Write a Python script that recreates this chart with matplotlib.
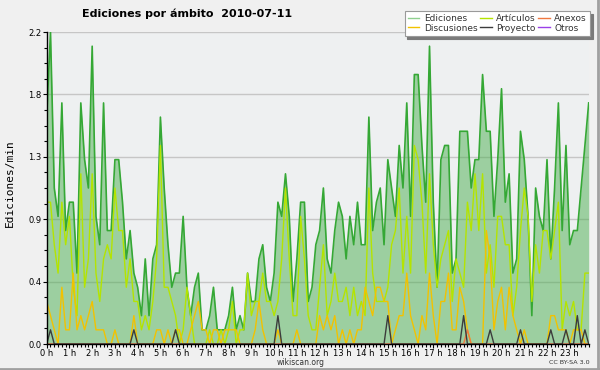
import numpy as np
import matplotlib
matplotlib.use('Agg')
import matplotlib.pyplot as plt
from matplotlib.ticker import FixedLocator, MultipleLocator
from matplotlib.lines import Line2D

# Edits per minute, one value per 10-minute slot (144 slots over the day)
ediciones = [1.6, 2.2, 1.1, 0.9, 1.7, 0.8, 1.0, 1.0, 0.5, 1.7, 1.3, 1.1, 2.1, 0.9, 0.7, 1.7,
             0.8, 0.8, 1.3, 1.3, 1.0, 0.6, 0.8, 0.5, 0.4, 0.2, 0.6, 0.2, 0.6, 0.7, 1.6, 1.1,
             0.7, 0.4, 0.5, 0.5, 0.9, 0.4, 0.2, 0.4, 0.5, 0.1, 0.1, 0.2, 0.4, 0.1, 0.1, 0.1,
             0.2, 0.4, 0.1, 0.2, 0.1, 0.5, 0.3, 0.3, 0.6, 0.7, 0.4, 0.3, 0.5, 1.0, 0.9, 1.2,
             0.9, 0.3, 0.6, 1.0, 1.0, 0.3, 0.4, 0.7, 0.8, 1.1, 0.6, 0.5, 0.8, 1.0, 0.9, 0.6,
             0.9, 0.7, 1.0, 0.7, 0.7, 1.6, 0.8, 1.0, 1.1, 0.7, 1.3, 1.1, 0.9, 1.4, 1.1, 1.7,
             0.9, 1.9, 1.9, 1.4, 1.0, 2.1, 1.0, 0.4, 1.3, 1.4, 1.4, 0.5, 0.6, 1.5, 1.5, 1.5,
             1.1, 1.3, 1.3, 1.9, 1.5, 1.5, 0.9, 1.3, 1.8, 1.0, 1.2, 0.5, 0.6, 1.5, 1.3, 0.9,
             0.2, 1.1, 0.9, 0.8, 1.3, 0.6, 1.1, 1.7, 0.8, 1.4, 0.7, 0.8, 0.8, 1.1, 1.4, 1.7]

articulos = [1.0, 1.0, 0.7, 0.5, 1.0, 0.7, 0.9, 0.4, 0.2, 1.2, 0.4, 0.6, 1.2, 0.5, 0.3, 0.6,
             0.7, 0.6, 1.1, 0.8, 0.8, 0.4, 0.6, 0.3, 0.3, 0.1, 0.2, 0.1, 0.3, 0.6, 1.4, 0.4,
             0.4, 0.3, 0.2, 0.0, 0.1, 0.4, 0.2, 0.0, 0.0, 0.0, 0.0, 0.1, 0.0, 0.0, 0.1, 0.0,
             0.1, 0.3, 0.0, 0.1, 0.1, 0.5, 0.2, 0.3, 0.3, 0.5, 0.3, 0.3, 0.2, 0.3, 0.6, 1.1,
             0.6, 0.2, 0.2, 0.9, 0.6, 0.2, 0.1, 0.1, 0.4, 0.7, 0.2, 0.3, 0.5, 0.3, 0.3, 0.4,
             0.2, 0.4, 0.2, 0.3, 0.2, 1.1, 0.5, 0.3, 0.3, 0.3, 0.4, 0.7, 0.8, 1.1, 0.5, 0.9,
             0.5, 1.4, 1.3, 1.0, 0.5, 1.2, 0.7, 0.4, 0.6, 0.7, 0.8, 0.3, 0.6, 0.5, 0.4, 1.0,
             0.8, 1.2, 0.8, 1.2, 0.5, 0.7, 0.4, 0.9, 0.9, 0.7, 0.7, 0.2, 0.4, 0.8, 1.1, 0.9,
             0.3, 0.7, 0.5, 0.8, 0.8, 0.6, 0.8, 1.0, 0.1, 0.3, 0.2, 0.3, 0.1, 0.1, 0.5, 0.5]

discusiones = [0.3, 0.2, 0.1, 0.0, 0.4, 0.1, 0.1, 0.5, 0.1, 0.2, 0.1, 0.2, 0.3, 0.1, 0.1, 0.1,
               0.0, 0.0, 0.1, 0.0, 0.0, 0.0, 0.0, 0.2, 0.0, 0.0, 0.0, 0.0, 0.0, 0.1, 0.1, 0.0,
               0.1, 0.0, 0.1, 0.1, 0.0, 0.0, 0.1, 0.2, 0.3, 0.1, 0.1, 0.0, 0.1, 0.1, 0.0, 0.1,
               0.1, 0.1, 0.1, 0.0, 0.0, 0.0, 0.0, 0.1, 0.3, 0.1, 0.0, 0.0, 0.0, 0.1, 0.0, 0.0,
               0.0, 0.0, 0.1, 0.0, 0.0, 0.0, 0.0, 0.0, 0.2, 0.1, 0.2, 0.1, 0.2, 0.0, 0.1, 0.0,
               0.1, 0.0, 0.1, 0.1, 0.4, 0.3, 0.2, 0.4, 0.4, 0.3, 0.3, 0.0, 0.1, 0.2, 0.2, 0.5,
               0.2, 0.1, 0.0, 0.2, 0.1, 0.5, 0.2, 0.0, 0.3, 0.3, 0.5, 0.1, 0.1, 0.4, 0.3, 0.1,
               0.0, 0.0, 0.0, 0.0, 0.8, 0.6, 0.1, 0.3, 0.4, 0.1, 0.4, 0.2, 0.1, 0.0, 0.1, 0.0,
               0.0, 0.0, 0.0, 0.0, 0.0, 0.2, 0.2, 0.1, 0.1, 0.1, 0.0, 0.1, 0.1, 0.1, 0.0, 0.0]

proyecto_slots = [1, 23, 34, 61, 90, 110, 117, 125, 133, 137, 140, 142]
proyecto_vals = [0.1, 0.1, 0.1, 0.2, 0.2, 0.2, 0.1, 0.1, 0.1, 0.1, 0.2, 0.1]

anexos_slots = [111]
anexos_vals = [0.1]

hour_labels = ['0 h', '1 h', '2 h', '3 h', '4 h', '5 h', '6 h', '7 h', '8 h', '9 h', '10 h', '11 h',
               '12 h', '13 h', '14 h', '15 h', '16 h', '17 h', '18 h', '19 h', '20 h', '21 h',
               '22 h', '23 h']
y_ticks = [0.0, 0.44, 0.88, 1.32, 1.76, 2.2]
y_labels = ['0.0', '0.4', '0.9', '1.3', '1.8', '2.2']

n = len(ediciones)
t = np.arange(n) / 6.0
proyecto = np.zeros(n)
proyecto[proyecto_slots] = proyecto_vals
anexos = np.zeros(n)
anexos[anexos_slots] = anexos_vals
otros = np.zeros(n)

C_ED = '#35a835'
C_ART = '#b4e400'
C_DIS = '#f2c200'
C_PRO = '#3c3c3c'
C_ANX = '#f07840'
C_OTR = '#9a40e8'

fig = plt.figure(figsize=(6, 3.7), dpi=100, facecolor='#f0f0f0')
ax = fig.add_axes([46.7 / 600, 26 / 370, 542 / 600, 312 / 370])
ax.set_facecolor('#eef0f1')
ax.set_xlim(0, (n - 1) / 6.0)
ax.set_ylim(0, 2.2)

ax.set_axisbelow(True)
ax.yaxis.set_major_locator(FixedLocator(y_ticks))
ax.set_yticklabels(y_labels)
ax.yaxis.set_minor_locator(MultipleLocator(0.11))
ax.xaxis.set_major_locator(FixedLocator(list(range(24))))
ax.set_xticklabels(hour_labels)
ax.xaxis.set_minor_locator(MultipleLocator(1 / 6.0))
ax.grid(axis='y', which='major', color='#c6c6c6', lw=1)

for s in ['top', 'right']:
    ax.spines[s].set_visible(False)
for s in ['left', 'bottom']:
    ax.spines[s].set_color('black')
    ax.spines[s].set_linewidth(1)

ax.tick_params(axis='both', which='major', length=3, width=0.8, labelsize=6, pad=0.5)
ax.tick_params(axis='both', which='minor', length=2.2, width=0.8)

ax.fill_between(t, 0, ediciones, color='#4caf50', alpha=0.5, lw=0, zorder=1.5)
ax.plot(t, ediciones, color=C_ED, lw=1.2, zorder=2)
ax.plot(t, articulos, color=C_ART, lw=1.0, zorder=2.1)
ax.plot(t, discusiones, color=C_DIS, lw=1.0, zorder=2.2)
ax.plot(t, anexos, color=C_ANX, lw=1.0, zorder=2.25)
ax.plot(t, otros, color=C_OTR, lw=1.0, zorder=2.0)
ax.plot(t, proyecto, color=C_PRO, lw=1.0, zorder=2.3)

handles = [Line2D([], [], color='#8fd08f', lw=1), Line2D([], [], color=C_DIS, lw=1),
           Line2D([], [], color=C_ART, lw=1), Line2D([], [], color=C_PRO, lw=1),
           Line2D([], [], color=C_ANX, lw=1), Line2D([], [], color=C_OTR, lw=1)]
labels = ['Ediciones', 'Discusiones', 'Artículos', 'Proyecto', 'Anexos', 'Otros']
leg = fig.legend(handles, labels, ncol=3, loc='upper right',
                 bbox_to_anchor=(590 / 600, 1 - 11 / 370), fontsize=6.5,
                 frameon=True, fancybox=False, shadow={'color': '#7a7a7a', 'alpha': 1},
                 edgecolor='#9a9a9a', facecolor='white', framealpha=1,
                 handlelength=1.3, handletextpad=0.5, columnspacing=0.25,
                 borderpad=0.35, labelspacing=0.05, borderaxespad=0)
leg.get_frame().set_linewidth(0.8)
for txt in leg.get_texts():
    txt.set_color('#333333')

fig.text(187 / 600, 1 - 14 / 370, 'Ediciones por ámbito  2010-07-11', ha='center', va='center',
         fontsize=8, fontweight='bold')
fig.text(10 / 600, 1 - 183 / 370, 'Ediciones/min', rotation=90, family='DejaVu Sans Mono',
         fontsize=8, ha='center', va='center')
fig.text(301 / 600, 1 - 362.5 / 370, 'wikiscan.org', fontsize=5.5, ha='center', va='center',
         color='#333333')
fig.text(590 / 600, 1 - 362.5 / 370, 'CC BY-SA 3.0', fontsize=4.6, ha='right', va='center',
         color='#333333')

fig.add_artist(Line2D([0, 1], [0.003, 0.003], transform=fig.transFigure, color='#a0a0a0', lw=2))
fig.add_artist(Line2D([0.997, 0.997], [0, 1], transform=fig.transFigure, color='#a0a0a0', lw=2))

fig.savefig('out.png', dpi=100, facecolor=fig.get_facecolor())
